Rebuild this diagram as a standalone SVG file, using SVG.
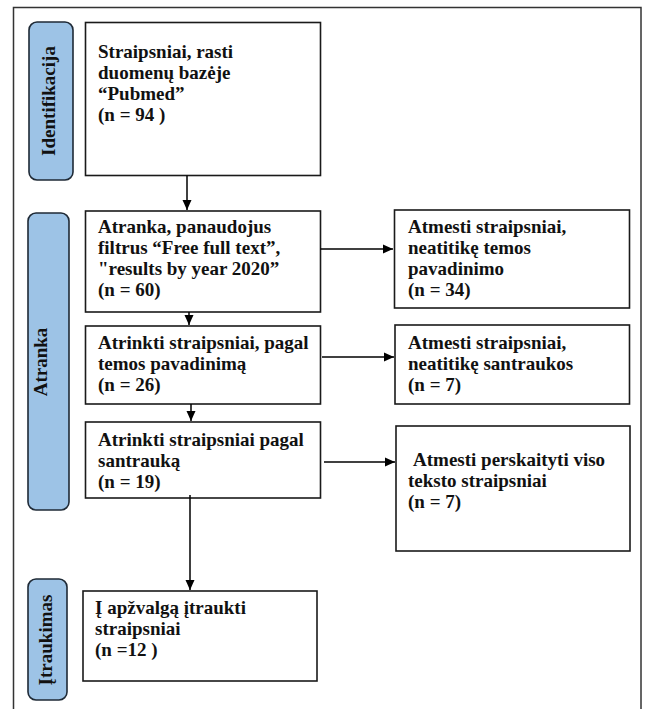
<svg xmlns="http://www.w3.org/2000/svg" width="646" height="709" viewBox="0 0 646 709">
<style>
.box{fill:#fff;stroke:#1a1a1a;stroke-width:1.6}
.pill{fill:#9DC3E6;stroke:#1f2a36;stroke-width:1.6}
.t{font-family:"Liberation Serif","Times New Roman",serif;font-weight:bold;font-size:19px;fill:#111}
.lab{text-anchor:middle}
.conn line{stroke:#000;stroke-width:1.5;marker-end:url(#ah)}
</style>
<defs>
<marker id="ah" markerUnits="userSpaceOnUse" markerWidth="10" markerHeight="10" refX="10" refY="5" orient="auto">
<path d="M0,0.5 L10,5 L0,9.5 z" fill="#000"/>
</marker>
</defs>
<rect x="13.5" y="7.5" width="627.5" height="710" fill="#fff" stroke="#333" stroke-width="1.5"/>

<g id="lab-identifikacija">
<rect class="pill" x="29" y="22" width="44" height="158" rx="8"/>
<text class="t lab" transform="translate(55,101) rotate(-90)">Identifikacija</text>
</g>
<g id="lab-atranka">
<rect class="pill" x="28" y="213" width="41" height="297" rx="8"/>
<text class="t lab" transform="translate(47,362) rotate(-90)">Atranka</text>
</g>
<g id="lab-itraukimas">
<rect class="pill" x="28" y="579" width="39" height="121" rx="8"/>
<text class="t lab" transform="translate(52,640) rotate(-90)">Įtraukimas</text>
</g>

<g id="n-pubmed">
<rect class="box" x="85.5" y="22.5" width="235" height="153"/>
<text class="t" x="98" y="58">Straipsniai, rasti</text>
<text class="t" x="98" y="79">duomenų bazėje</text>
<text class="t" x="98" y="100">“Pubmed”</text>
<text class="t" x="98" y="121">(n = 94 )</text>
</g>
<g id="n-filtrai">
<rect class="box" x="85.5" y="211" width="235" height="101"/>
<text class="t" x="98" y="233">Atranka, panaudojus</text>
<text class="t" x="98" y="254">filtrus “Free full text”,</text>
<text class="t" x="98" y="275">"results by year 2020”</text>
<text class="t" x="98" y="296">(n = 60)</text>
</g>
<g id="n-atmesti1">
<rect class="box" x="394.5" y="210" width="235" height="98"/>
<text class="t" x="408" y="233">Atmesti straipsniai,</text>
<text class="t" x="408" y="254">neatitikę temos</text>
<text class="t" x="408" y="275">pavadinimo</text>
<text class="t" x="408" y="296">(n = 34)</text>
</g>
<g id="n-pavadinimas">
<rect class="box" x="85.5" y="326" width="235" height="78"/>
<text class="t" x="98" y="349">Atrinkti straipsniai, pagal</text>
<text class="t" x="98" y="370">temos pavadinimą</text>
<text class="t" x="98" y="391">(n = 26)</text>
</g>
<g id="n-atmesti2">
<rect class="box" x="395" y="325" width="234.5" height="79"/>
<text class="t" x="408" y="349">Atmesti straipsniai,</text>
<text class="t" x="408" y="370">neatitikę santraukos</text>
<text class="t" x="408" y="391">(n = 7)</text>
</g>
<g id="n-santrauka">
<rect class="box" x="85.5" y="422" width="235" height="76"/>
<text class="t" x="98" y="446">Atrinkti straipsniai pagal</text>
<text class="t" x="98" y="467">santrauką</text>
<text class="t" x="98" y="488">(n = 19)</text>
</g>
<g id="n-atmesti3">
<rect class="box" x="396" y="426" width="234" height="125"/>
<text class="t" x="413" y="466">Atmesti perskaityti viso</text>
<text class="t" x="408" y="487">teksto straipsniai</text>
<text class="t" x="408" y="508">(n = 7)</text>
</g>
<g id="n-itraukta">
<rect class="box" x="83" y="591" width="234" height="90"/>
<text class="t" x="95" y="614">Į apžvalgą įtraukti</text>
<text class="t" x="95" y="635">straipsniai</text>
<text class="t" x="95" y="656">(n =12 )</text>
</g>

<g id="connectors" class="conn">
<line x1="187" y1="175.5" x2="187" y2="210"/>
<line x1="189" y1="312" x2="189" y2="325"/>
<line x1="191" y1="404" x2="191" y2="421"/>
<line x1="190" y1="495" x2="190" y2="590"/>
<line x1="320.5" y1="249" x2="393" y2="249"/>
<line x1="322" y1="357" x2="394" y2="357"/>
<line x1="324" y1="462" x2="395" y2="462"/>
</g>
</svg>
